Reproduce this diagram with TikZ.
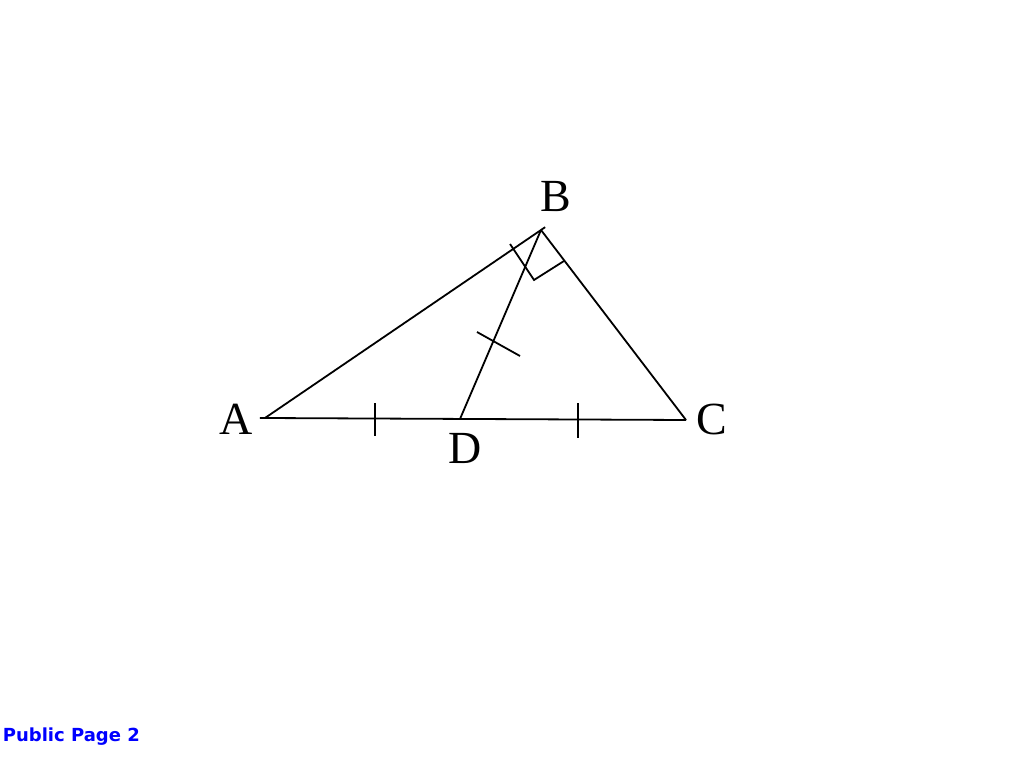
\documentclass[tikz,border=0pt]{standalone}
\usepackage{fontspec}
\setmainfont{Liberation Serif}
\newfontfamily\footfont{DejaVu Sans}
\usepackage{tikz}
\usetikzlibrary{calc}

\begin{document}
\begin{tikzpicture}[x=1pt,y=-1pt,line width=1.8pt,
    vertex/.style={font=\fontsize{46}{46}\selectfont,inner sep=0pt}]
        \useasboundingbox (0,0) rectangle (1014,760);

        % Vertices of the triangle
        \coordinate (A) at (265,418);
        \coordinate (B) at (541,230);
        \coordinate (C) at (686,420);
        \coordinate (D) at (460,419);

        % Draw the sides and the median
        \draw (A) -- ($(A)!1.015!(B)$);
        \draw (B) -- (C);
        \draw ($(A)!-0.012!(C)$) -- (C);
        \draw (B) -- (D);

        % Equal-length marks
        \draw (375,403) -- (375,436);
        \draw (578,403) -- (578,438);
        \draw (477,332) -- (520,356);

        % Right angle at B
        \draw (510,244) -- (534,280) -- (564,261);

        % Labels
        \node[vertex] (lA) at (236,419) {A};
        \node[vertex] (lB) at (556,197) {B};
        \node[vertex] (lC) at (712,419) {C};
        \node[vertex] (lD) at (465,448) {D};

        % Footer
        \node[anchor=base west,inner sep=0pt,text=blue,
              font=\footfont\bfseries\fontsize{18}{18}\selectfont] (page) at (2,741) {Public Page 2};
    \end{tikzpicture}
\end{document}
